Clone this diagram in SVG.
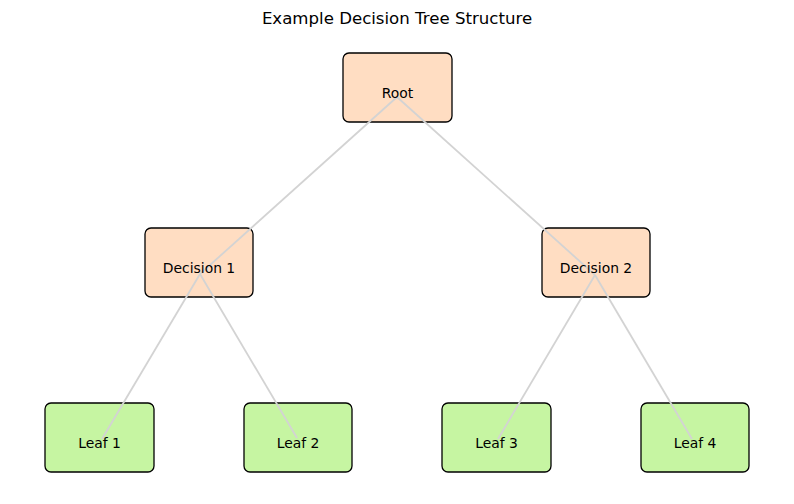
<svg xmlns="http://www.w3.org/2000/svg" width="794" height="504" viewBox="0 0 794 504">
<style>
.box{stroke:#000;stroke-width:1.3}
.dec{fill:#FFDDC2}
.leaf{fill:#C6F5A2}
.lbl{font-family:"DejaVu Sans",sans-serif;font-size:13.9px;fill:#000;text-anchor:middle}
.edge{stroke:#D3D3D3;stroke-width:1.8;fill:none}
</style>
<rect width="794" height="504" fill="#fff"/>
<text x="397" y="24" style="font-family:'DejaVu Sans',sans-serif;font-size:16.6px;text-anchor:middle">Example Decision Tree Structure</text>
<g id="node-boxes">
<rect id="b-root" class="box dec" x="343" y="53" width="109" height="69" rx="6"/>
<rect id="b-d1" class="box dec" x="145" y="228" width="108" height="69" rx="6"/>
<rect id="b-d2" class="box dec" x="542" y="228" width="108" height="69" rx="6"/>
<rect id="b-l1" class="box leaf" x="45" y="403" width="109" height="69" rx="6"/>
<rect id="b-l2" class="box leaf" x="244" y="403" width="108" height="69" rx="6"/>
<rect id="b-l3" class="box leaf" x="442" y="403" width="109" height="69" rx="6"/>
<rect id="b-l4" class="box leaf" x="641" y="403" width="108" height="69" rx="6"/>
</g>
<g id="connectors">
<line class="edge" x1="397" y1="97" x2="200" y2="274"/>
<line class="edge" x1="397" y1="97" x2="595" y2="275"/>
<line class="edge" x1="200" y1="274" x2="102" y2="439"/>
<line class="edge" x1="200" y1="274" x2="297" y2="438"/>
<line class="edge" x1="595" y1="275" x2="498" y2="439"/>
<line class="edge" x1="595" y1="275" x2="692" y2="439"/>
</g>
<g id="root"><text class="lbl" x="397.5" y="98">Root</text></g>
<g id="decision1"><text class="lbl" x="199" y="273">Decision 1</text></g>
<g id="decision2"><text class="lbl" x="596" y="273">Decision 2</text></g>
<g id="leaf1"><text class="lbl" x="99.5" y="448">Leaf 1</text></g>
<g id="leaf2"><text class="lbl" x="298" y="448">Leaf 2</text></g>
<g id="leaf3"><text class="lbl" x="496.5" y="448">Leaf 3</text></g>
<g id="leaf4"><text class="lbl" x="695" y="448">Leaf 4</text></g>
</svg>
